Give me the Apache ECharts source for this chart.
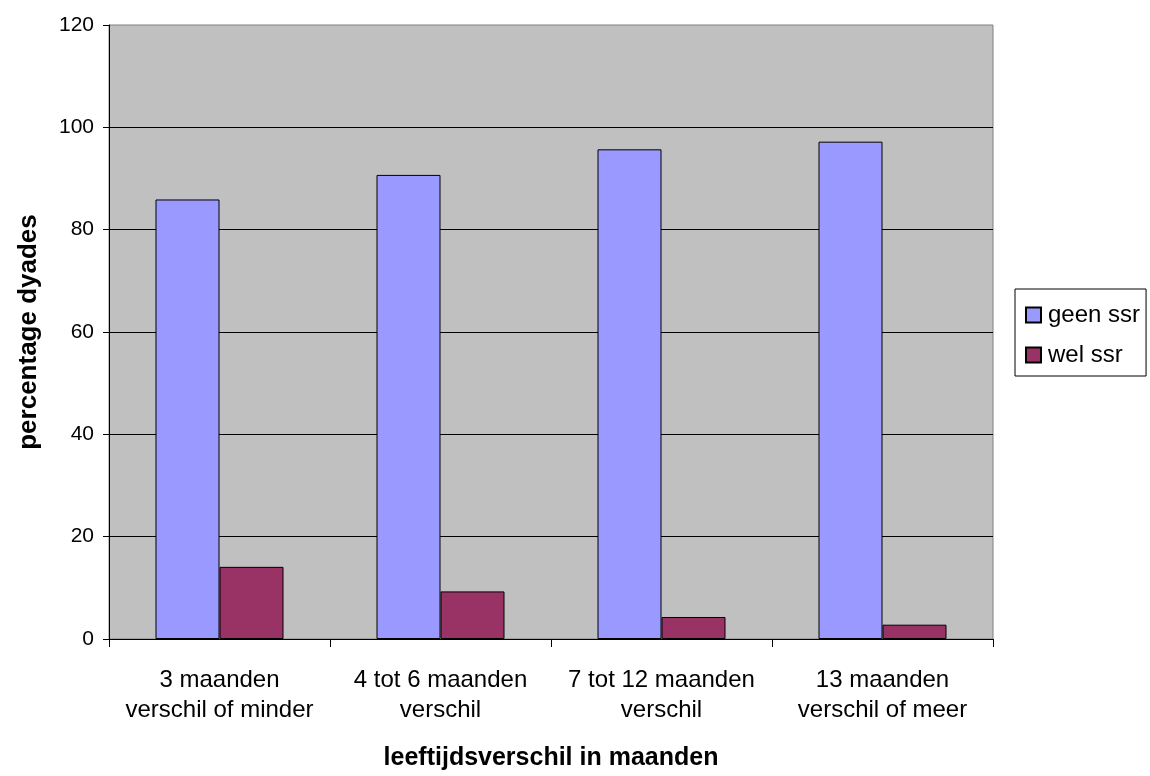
<!DOCTYPE html>
<html>
<head>
<meta charset="utf-8">
<script src="https://cdn.jsdelivr.net/npm/echarts@6/dist/echarts.min.js"></script>
<style>html,body{margin:0;padding:0;background:#fff;}#c{width:1150px;height:776px;}</style>
</head>
<body>
<div id="c"></div>
<script>
var categories = ['3 maanden\nverschil of minder', '4 tot 6 maanden\nverschil', '7 tot 12 maanden\nverschil', '13 maanden\nverschil of meer'];
var geenSsr = [85.9, 90.7, 95.7, 97.2];
var welSsr = [14.1, 9.3, 4.3, 2.8];
var yTicks = [0, 20, 40, 60, 80, 100, 120];

var chart = echarts.init(document.getElementById('c'), null, {renderer: 'canvas'});
var font = 'Arial, "Liberation Sans", sans-serif';
chart.setOption({
  animation: false,
  textStyle: {fontFamily: font},
  grid: {left: 109, right: 157, top: 25, bottom: 137, show: true, backgroundColor: '#c0c0c0', borderColor: '#808080', borderWidth: 1},
  legend: {
    orient: 'vertical', left: 1015, top: 289,
    backgroundColor: '#ffffff', borderColor: '#000000', borderWidth: 1, borderRadius: 0,
    padding: [14, 6, 9, 10], itemGap: 16, itemWidth: 15, itemHeight: 15,
    textStyle: {fontSize: 24, color: '#000', fontFamily: font, padding: [0, 0, 0, 2]},
    data: [{name: 'geen ssr', icon: 'rect'}, {name: 'wel ssr', icon: 'rect'}]
  },
  xAxis: {
    type: 'category', data: categories,
    name: 'leeftijdsverschil in maanden', nameLocation: 'middle', nameGap: 107,
    nameTextStyle: {fontSize: 25, fontWeight: 'bold', color: '#000', fontFamily: font},
    axisLine: {lineStyle: {color: '#000', width: 1}},
    axisTick: {show: true, length: 8, lineStyle: {color: '#000'}},
    axisLabel: {fontSize: 24, color: '#000', lineHeight: 30, margin: 26, fontFamily: font, interval: 0}
  },
  yAxis: {
    type: 'value', min: 0, max: 120, interval: 20,
    name: 'percentage dyades', nameLocation: 'middle', nameGap: 67,
    nameTextStyle: {fontSize: 26, fontWeight: 'bold', color: '#000', fontFamily: font},
    axisLine: {show: true, lineStyle: {color: '#000', width: 1}},
    axisTick: {show: true, length: 6, lineStyle: {color: '#000'}},
    axisLabel: {fontSize: 21, color: '#000', margin: 15, fontFamily: font,
      formatter: function (v) { return yTicks.indexOf(v) >= 0 ? String(v) : ''; }},
    splitLine: {show: true, showMaxLine: false, lineStyle: {color: '#000', width: 1}}
  },
  series: [
    {name: 'geen ssr', type: 'bar', data: geenSsr, barWidth: 64, barGap: '0%',
     itemStyle: {color: '#9999ff', borderColor: '#000', borderWidth: 1}},
    {name: 'wel ssr', type: 'bar', data: welSsr, barWidth: 64,
     itemStyle: {color: '#993366', borderColor: '#000', borderWidth: 1}}
  ]
});
</script>
</body>
</html>
